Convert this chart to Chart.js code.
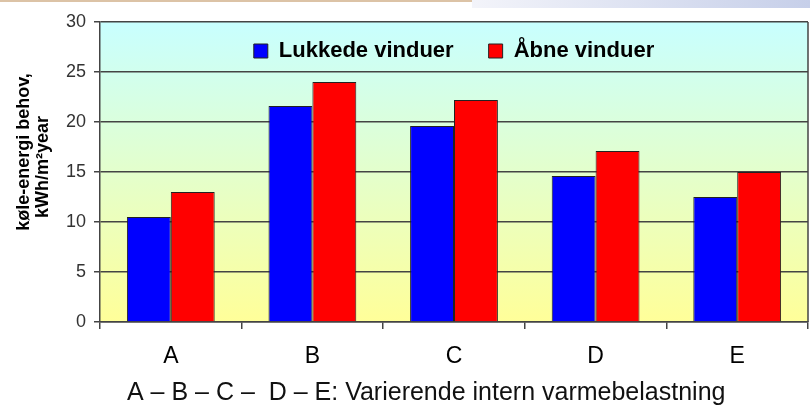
<!DOCTYPE html>
<html>
<head>
<meta charset="utf-8">
<script src="https://cdn.jsdelivr.net/npm/chart.js@4/dist/chart.umd.min.js"></script>
<style>
html,body{margin:0;padding:0;background:#fff;}
#wrap{position:relative;width:810px;height:408px;overflow:hidden;background:#fff;}
#deco1{position:absolute;left:0;top:0;width:472px;height:2px;background:#dcc3a6;}
#deco2{position:absolute;left:472px;top:0;width:338px;height:8px;background:linear-gradient(to right,#f3f4fa,#c6cfe9);}
canvas{position:absolute;left:0;top:0;}
</style>
</head>
<body>
<div id="wrap"><div id="deco1"></div><div id="deco2"></div><canvas id="c" width="810" height="408"></canvas></div>
<script>
const categories = ['A', 'B', 'C', 'D', 'E'];
const closedWindows = [10.5, 21.6, 19.6, 14.6, 12.5];
const openWindows = [13.0, 24.0, 22.2, 17.1, 15.0];
const seriesNames = ['Lukkede vinduer', 'Åbne vinduer'];
const yTitleLines = ['        køle-energi behov,', '  kWh/m²year'];
const xTitle = 'A – B – C –  D – E: Varierende intern varmebelastning        ';
const yMin = 0, yMax = 30, yStep = 5;

Chart.defaults.font.family = '"Liberation Sans", Arial, sans-serif';

const plotBg = {
  id: 'plotBg',
  beforeDraw(chart) {
    const {ctx, chartArea: a} = chart;
    const g = ctx.createLinearGradient(0, a.top, 0, a.bottom);
    g.addColorStop(0, '#c8ffff');
    g.addColorStop(1, '#ffff99');
    ctx.save();
    ctx.fillStyle = g;
    ctx.fillRect(a.left, a.top, a.right - a.left, a.bottom - a.top);
    ctx.restore();
  },
  beforeDatasetsDraw(chart) {
    const {ctx, chartArea: a} = chart;
    ctx.save();
    ctx.strokeStyle = '#444';
    ctx.lineWidth = 1.5;
    ctx.beginPath();
    ctx.moveTo(a.right, a.top);
    ctx.lineTo(a.right, a.bottom);
    ctx.stroke();
    ctx.restore();
  }
};

const legendInPlot = {
  id: 'legendInPlot',
  beforeLayout(chart) {
    const lg = chart.legend;
    if (lg && !lg.__patched) {
      const fit = lg.fit;
      lg.fit = function () { fit.call(this); this.__h = this.height; this.height = 0; };
      lg.__patched = true;
    }
  },
  afterLayout(chart) {
    const lg = chart.legend, a = chart.chartArea;
    if (!lg) return;
    const pad = lg.options.labels.padding;
    lg.left = a.left; lg.right = a.right; lg.width = a.right - a.left;
    lg.top = 40 - pad;
    lg.height = lg.__h || 30;
    lg.bottom = lg.top + lg.height;
  }
};

new Chart(document.getElementById('c'), {
  type: 'bar',
  data: {
    labels: categories,
    datasets: [
      {label: seriesNames[0], data: closedWindows, backgroundColor: '#0000ff', borderColor: '#222', borderWidth: 1},
      {label: seriesNames[1], data: openWindows, backgroundColor: '#ff0000', borderColor: '#222', borderWidth: 1}
    ]
  },
  options: {
    responsive: false,
    animation: false,
    devicePixelRatio: 1,
    layout: {padding: {top: 22, right: 2, left: 0, bottom: 0}},
    datasets: {bar: {categoryPercentage: 0.62, barPercentage: 1.0}},
    plugins: {
      legend: {
        position: 'top',
        align: 'center',
        labels: {
          font: {size: 22, weight: 'bold'},
          color: '#000',
          boxWidth: 14,
          boxHeight: 14,
          padding: 35
        }
      },
      tooltip: {enabled: false}
    },
    scales: {
      x: {
        grid: {display: true, drawOnChartArea: false, drawTicks: true, tickLength: 7, color: '#444', lineWidth: 1.5, offset: true},
        border: {display: true, color: '#444', width: 1.5},
        ticks: {font: {size: 23}, color: '#000', padding: 14},
        title: {display: true, text: xTitle, font: {size: 25}, color: '#111', padding: {top: 4, bottom: 0}},
        afterFit(s) { s.height = 86; }
      },
      y: {
        min: yMin, max: yMax,
        ticks: {stepSize: yStep, font: {size: 18}, color: '#333', padding: 8},
        grid: {color: '#444', lineWidth: 1.5, tickLength: 6, drawTicks: true},
        border: {display: true, color: '#444', width: 1.5},
        title: {display: true, text: yTitleLines, font: {size: 18, weight: 'bold', lineHeight: 1.09}, color: '#000', padding: {top: 14, bottom: 0}},
        afterFit(s) { s.width = 100; }
      }
    }
  },
  plugins: [plotBg, legendInPlot]
});
</script>
</body>
</html>
